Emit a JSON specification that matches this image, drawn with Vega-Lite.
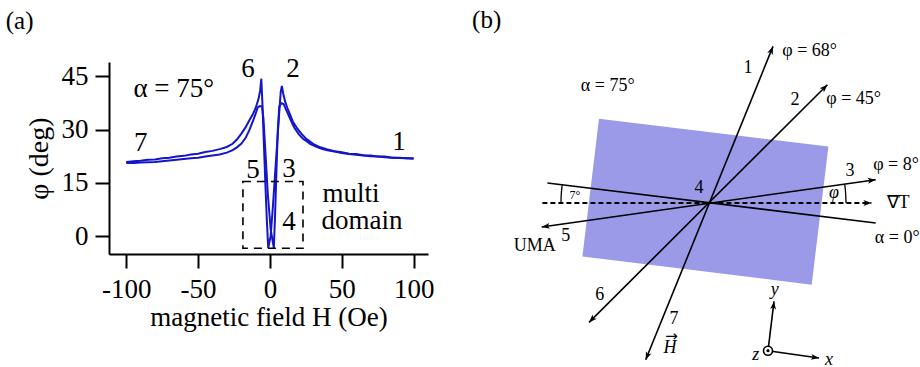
{
  "$schema": "https://vega.github.io/schema/vega-lite/v6.json",
  "autosize": {"type": "pad"},
  "padding": {"left": 5, "top": 7, "right": 0, "bottom": 0},
  "background": "white",
  "bounds": "flush",
  "spacing": 53,
  "config": {"view": {"stroke": null}, "font": "Liberation Serif"},
  "hconcat": [
    {
      "width": 319,
      "height": 192,
      "encoding": {
        "x": {"field": "H", "type": "quantitative", "scale": {"domain": [-112, 110], "nice": false, "zero": false},
          "axis": {"title": "magnetic field H (Oe)", "values": [-100, -50, 0, 50, 100], "grid": false, "domainColor": "black", "domainWidth": 2, "tickColor": "black", "tickWidth": 2, "tickSize": 14, "labelFontSize": 27, "labelColor": "black", "labelPadding": 8, "labelFont": "Liberation Serif", "titleFont": "Liberation Serif", "titleFontSize": 27, "titleFontWeight": "normal", "titleColor": "black", "titlePadding": 2, "labelFlush": false, "labelOverlap": false, "labelExpr": "replace(datum.label, '−', '-')"}},
        "y": {"field": "phi", "type": "quantitative", "scale": {"domain": [-5, 49], "nice": false, "zero": false},
          "axis": {"title": "φ (deg)", "values": [0, 15, 30, 45], "grid": false, "domainColor": "black", "domainWidth": 2, "tickColor": "black", "tickWidth": 2, "tickSize": 14, "labelFontSize": 27, "labelColor": "black", "labelPadding": 7, "labelFont": "Liberation Serif", "titleFont": "Liberation Serif", "titleFontSize": 28, "titleFontWeight": "normal", "titleColor": "black", "titlePadding": 8, "labelFlush": false, "labelOverlap": false}}
      },
      "layer": [
        {
          "data": {"values": [
            {"b":"d","H":100,"phi":21.9},{"b":"d","H":95,"phi":21.9},{"b":"d","H":90,"phi":22.1},{"b":"d","H":85,"phi":22.1},{"b":"d","H":80,"phi":22.4},{"b":"d","H":75,"phi":22.4},{"b":"d","H":70,"phi":22.7},{"b":"d","H":65,"phi":22.8},{"b":"d","H":60,"phi":23.1},{"b":"d","H":55,"phi":23.2},{"b":"d","H":50,"phi":23.6},{"b":"d","H":45,"phi":23.9},{"b":"d","H":40,"phi":24.4},{"b":"d","H":35,"phi":25.0},{"b":"d","H":30,"phi":26.0},{"b":"d","H":27,"phi":26.9},{"b":"d","H":25,"phi":27.5},{"b":"d","H":22,"phi":28.8},{"b":"d","H":19,"phi":30.3},{"b":"d","H":16,"phi":32.2},{"b":"d","H":14,"phi":34.2},{"b":"d","H":12,"phi":36.2},{"b":"d","H":10.5,"phi":38.0},{"b":"d","H":9.2,"phi":40.2},{"b":"d","H":8.3,"phi":42.3},{"b":"d","H":7.5,"phi":40.5},{"b":"d","H":6.5,"phi":35},{"b":"d","H":5,"phi":26},{"b":"d","H":3.5,"phi":17},{"b":"d","H":2,"phi":8},{"b":"d","H":0.5,"phi":0},{"b":"d","H":-1.2,"phi":-3.3},{"b":"d","H":-2.2,"phi":5},{"b":"d","H":-3.2,"phi":15},{"b":"d","H":-4.3,"phi":27},{"b":"d","H":-5.2,"phi":37},{"b":"d","H":-6,"phi":44.3},{"b":"d","H":-6.8,"phi":41},{"b":"d","H":-8,"phi":38.5},{"b":"d","H":-10,"phi":36},{"b":"d","H":-12,"phi":34.2},{"b":"d","H":-14,"phi":32.8},{"b":"d","H":-17,"phi":30.6},{"b":"d","H":-20,"phi":28.8},{"b":"d","H":-23,"phi":27.2},{"b":"d","H":-26,"phi":26.0},{"b":"d","H":-30,"phi":25.1},{"b":"d","H":-35,"phi":24.5},{"b":"d","H":-40,"phi":24.0},{"b":"d","H":-45,"phi":23.7},{"b":"d","H":-50,"phi":23.2},{"b":"d","H":-55,"phi":23.0},{"b":"d","H":-60,"phi":22.6},{"b":"d","H":-65,"phi":22.4},{"b":"d","H":-70,"phi":22.1},{"b":"d","H":-75,"phi":21.9},{"b":"d","H":-80,"phi":21.6},{"b":"d","H":-85,"phi":21.5},{"b":"d","H":-90,"phi":21.2},{"b":"d","H":-95,"phi":21.1},{"b":"d","H":-100,"phi":20.9},
            {"b":"u","H":-100,"phi":20.6},{"b":"u","H":-95,"phi":20.6},{"b":"u","H":-90,"phi":20.7},{"b":"u","H":-85,"phi":20.8},{"b":"u","H":-80,"phi":20.9},{"b":"u","H":-75,"phi":21.1},{"b":"u","H":-70,"phi":21.3},{"b":"u","H":-65,"phi":21.5},{"b":"u","H":-60,"phi":21.7},{"b":"u","H":-55,"phi":21.9},{"b":"u","H":-50,"phi":22.1},{"b":"u","H":-45,"phi":22.4},{"b":"u","H":-40,"phi":22.7},{"b":"u","H":-35,"phi":23.0},{"b":"u","H":-30,"phi":23.5},{"b":"u","H":-26,"phi":24.2},{"b":"u","H":-23,"phi":25.0},{"b":"u","H":-20,"phi":26.0},{"b":"u","H":-17,"phi":27.6},{"b":"u","H":-14.5,"phi":29.7},{"b":"u","H":-12,"phi":32.2},{"b":"u","H":-10,"phi":34.4},{"b":"u","H":-8.5,"phi":36.2},{"b":"u","H":-7,"phi":36.6},{"b":"u","H":-5.5,"phi":36.5},{"b":"u","H":-4.5,"phi":33},{"b":"u","H":-3.2,"phi":24},{"b":"u","H":-1.5,"phi":12},{"b":"u","H":0.5,"phi":2},{"b":"u","H":2.7,"phi":-3.3},{"b":"u","H":3.5,"phi":5},{"b":"u","H":4.5,"phi":18},{"b":"u","H":5.5,"phi":30},{"b":"u","H":6.5,"phi":36.5},{"b":"u","H":8,"phi":37.4},{"b":"u","H":9.5,"phi":37.2},{"b":"u","H":11,"phi":35.8},{"b":"u","H":13,"phi":34.0},{"b":"u","H":15,"phi":32.2},{"b":"u","H":17,"phi":30.5},{"b":"u","H":20,"phi":28.7},{"b":"u","H":23,"phi":27.4},{"b":"u","H":25,"phi":26.9},{"b":"u","H":28,"phi":26.0},{"b":"u","H":32,"phi":25.2},{"b":"u","H":36,"phi":24.6},{"b":"u","H":40,"phi":24.2},{"b":"u","H":45,"phi":23.8},{"b":"u","H":50,"phi":23.4},{"b":"u","H":55,"phi":23.1},{"b":"u","H":60,"phi":22.9},{"b":"u","H":65,"phi":22.7},{"b":"u","H":70,"phi":22.5},{"b":"u","H":75,"phi":22.4},{"b":"u","H":80,"phi":22.2},{"b":"u","H":85,"phi":22.1},{"b":"u","H":90,"phi":22.0},{"b":"u","H":95,"phi":21.9},{"b":"u","H":100,"phi":21.8}
          ]},
          "mark": {"type": "line", "color": "#1414c8", "strokeWidth": 2},
          "encoding": {"detail": {"field": "b", "type": "nominal"}}
        },
        {
          "data": {"values": [{"H": -18.8, "H2": 23, "phi": -3.4, "phi2": 15.4}]},
          "mark": {"type": "rect", "fill": null, "fillOpacity": 0, "stroke": "black", "strokeWidth": 1.6, "strokeDash": [8, 6]},
          "encoding": {"x2": {"field": "H2"}, "y2": {"field": "phi2"}}
        },
        {
          "data": {"values": [
            {"H": -15.3, "phi": 47.1, "t": "6"}, {"H": 16, "phi": 47.1, "t": "2"}, {"H": -89.9, "phi": 26.3, "t": "7"}, {"H": 89.9, "phi": 26.6, "t": "1"},
            {"H": -11.8, "phi": 18.5, "t": "5"}, {"H": 13.2, "phi": 19, "t": "3"}, {"H": 13.2, "phi": 3.9, "t": "4"},
            {"H": 56.4, "phi": 12, "t": "multi"}, {"H": 64, "phi": 4.2, "t": "domain"}, {"H": -66.9, "phi": 41.5, "t": "α = 75°"}
          ]},
          "mark": {"type": "text", "fontSize": 27, "color": "black", "align": "center", "baseline": "middle", "font": "Liberation Serif"},
          "encoding": {"text": {"field": "t"}}
        },
        {
          "data": {"values": [{"H": -174.2, "phi": 60.5, "t": "(a)"}]},
          "mark": {"type": "text", "fontSize": 25, "color": "black", "align": "center", "baseline": "middle", "font": "Liberation Serif"},
          "encoding": {"text": {"field": "t"}}
        }
      ]
    },
    {
      "width": 440,
      "height": 305,
      "encoding": {
        "x": {"field": "x", "type": "quantitative", "scale": {"domain": [-228, 212], "nice": false, "zero": false}, "axis": null},
        "y": {"field": "y", "type": "quantitative", "scale": {"domain": [-164, 141], "nice": false, "zero": false}, "axis": null}
      },
      "layer": [
        {
          "data": {"values": [{"x": -126.6, "y": -53.4, "y2": -53.4}, {"x": -110, "y": 84.3, "y2": -55.45}, {"x": 102.7, "y": 58.6, "y2": -81.7}, {"x": 119.4, "y": 56.6, "y2": 56.6}]},
          "mark": {"type": "area", "color": "#9a9ae8", "opacity": 1},
          "encoding": {"y2": {"field": "y2"}}
        },
        {
          "data": {"values": [
            {"s": "L17", "o": 0, "x": 64, "y": 156.6}, {"s": "L17", "o": 1, "x": -63.3, "y": -156.7},
            {"s": "L26", "o": 0, "x": 118.4, "y": 118.3}, {"s": "L26", "o": 1, "x": -120, "y": -119.4},
            {"s": "L35", "o": 0, "x": 166.7, "y": 23.3}, {"s": "L35", "o": 1, "x": -167.3, "y": -24},
            {"s": "A0", "o": 0, "x": -161.6, "y": 20}, {"s": "A0", "o": 1, "x": 166.7, "y": -20},
            {"s": "ty", "o": 0, "x": 59, "y": -147.7}, {"s": "ty", "o": 1, "x": 65, "y": -98.4},
            {"s": "tx", "o": 0, "x": 59, "y": -147.7}, {"s": "tx", "o": 1, "x": 110, "y": -155}
          ]},
          "mark": {"type": "line", "color": "black", "strokeWidth": 1.6},
          "encoding": {"detail": {"field": "s", "type": "nominal"}, "order": {"field": "o", "type": "quantitative"}}
        },
        {
          "data": {"values": [
            {"s": "arcL", "o": 0, "x": -148, "y": 0}, {"s": "arcL", "o": 1, "x": -147.9, "y": 5.9}, {"s": "arcL", "o": 2, "x": -147.5, "y": 11.9}, {"s": "arcL", "o": 3, "x": -146.9, "y": 17.8},
            {"s": "arcR", "o": 0, "x": 137, "y": 0}, {"s": "arcR", "o": 1, "x": 136.8, "y": 6.5}, {"s": "arcR", "o": 2, "x": 136.4, "y": 12.7}, {"s": "arcR", "o": 3, "x": 135.7, "y": 19.1}
          ]},
          "mark": {"type": "line", "color": "black", "strokeWidth": 1.3},
          "encoding": {"detail": {"field": "s", "type": "nominal"}, "order": {"field": "o", "type": "quantitative"}}
        },
        {
          "data": {"values": [{"o": 0, "x": -166.6, "y": 0}, {"o": 1, "x": 162.4, "y": 0}]},
          "mark": {"type": "line", "color": "black", "strokeWidth": 2, "strokeDash": [5, 3]},
          "encoding": {"order": {"field": "o", "type": "quantitative"}}
        },
        {
          "data": {"values": [
            {"x": 64, "y": 156.6, "rot": 22.2}, {"x": -63.3, "y": -156.7, "rot": 202.2},
            {"x": 118.4, "y": 118.3, "rot": 45}, {"x": -120, "y": -119.4, "rot": 225},
            {"x": 166.7, "y": 23.3, "rot": 82}, {"x": -167.3, "y": -24, "rot": 262},
            {"x": 162.4, "y": 0, "rot": 90}, {"x": 65, "y": -98.4, "rot": 7}, {"x": 110, "y": -155, "rot": 98.1}
          ]},
          "mark": {"type": "point", "shape": "M0,0L-0.75,2L0,1.5L0.75,2Z", "size": 64, "filled": true, "color": "black", "opacity": 1, "strokeWidth": 0},
          "encoding": {"angle": {"field": "rot", "type": "quantitative", "scale": null}}
        },
        {
          "data": {"values": [{"x": 59, "y": -147.7}]},
          "mark": {"type": "point", "shape": "circle", "size": 81, "fill": "white", "stroke": "black", "strokeWidth": 1.6, "opacity": 1}
        },
        {
          "data": {"values": [{"x": 59, "y": -147.7}]},
          "mark": {"type": "point", "shape": "circle", "size": 10, "filled": true, "color": "black", "opacity": 1}
        },
        {
          "data": {"values": [
            {"x": 39, "y": 135, "t": "1"}, {"x": 100.7, "y": 151.6, "t": "φ = 68°"}, {"x": 86, "y": 103.3, "t": "2"}, {"x": 144.7, "y": 104, "t": "φ = 45°"},
            {"x": 141, "y": 31.6, "t": "3"}, {"x": 187, "y": 37.6, "t": "φ = 8°"}, {"x": -10, "y": 15, "t": "4"}, {"x": -143.3, "y": -32.7, "t": "5"},
            {"x": -174.3, "y": -42.7, "t": "UMA"}, {"x": -109.3, "y": -91.7, "t": "6"}, {"x": -35, "y": -116, "t": "7"}, {"x": 189, "y": 0, "t": "∇T"},
            {"x": 188.2, "y": -35, "t": "α = 0°"}, {"x": -101.3, "y": 117.3, "t": "α = 75°"}
          ]},
          "mark": {"type": "text", "fontSize": 18, "color": "black", "align": "center", "baseline": "middle", "font": "Liberation Serif"},
          "encoding": {"text": {"field": "t"}}
        },
        {
          "data": {"values": [{"x": 125, "y": 10, "t": "φ"}, {"x": -39, "y": -144.5, "t": "H"}, {"x": 120, "y": -156.7, "t": "x"}, {"x": 65.7, "y": -86.7, "t": "y"}, {"x": 46.7, "y": -151.7, "t": "z"}]},
          "mark": {"type": "text", "fontSize": 18, "fontStyle": "italic", "color": "black", "align": "center", "baseline": "middle", "font": "Liberation Serif"},
          "encoding": {"text": {"field": "t"}}
        },
        {
          "data": {"values": [{"x": -134, "y": 8.3, "t": "7°"}]},
          "mark": {"type": "text", "fontSize": 12, "color": "black", "align": "center", "baseline": "middle", "font": "Liberation Serif"},
          "encoding": {"text": {"field": "t"}}
        },
        {
          "data": {"values": [{"x": -37.5, "y": -133, "t": "→"}]},
          "mark": {"type": "text", "fontSize": 15, "color": "black", "align": "center", "baseline": "middle", "font": "DejaVu Sans"},
          "encoding": {"text": {"field": "t"}}
        },
        {
          "data": {"values": [{"x": -222.3, "y": 183.3, "t": "(b)"}]},
          "mark": {"type": "text", "fontSize": 25, "color": "black", "align": "center", "baseline": "middle", "font": "Liberation Serif"},
          "encoding": {"text": {"field": "t"}}
        }
      ]
    }
  ]
}
